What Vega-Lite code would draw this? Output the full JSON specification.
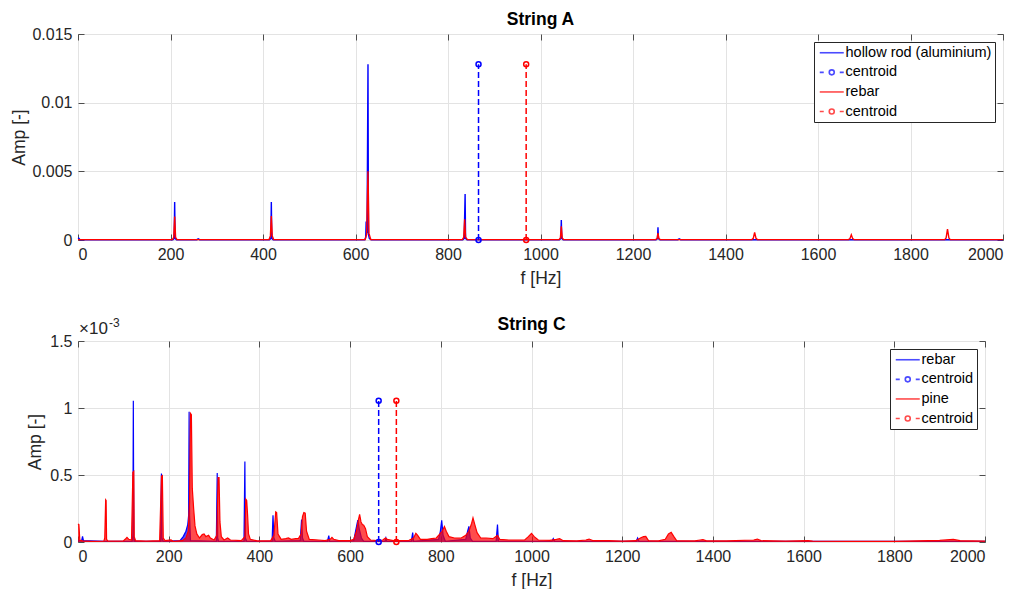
{
  "$schema": "https://vega.github.io/schema/vega-lite/v6.json",
  "background": "white",
  "padding": {"left": 10, "top": 10, "right": 0, "bottom": 0},
  "config": {
    "font": "Liberation Sans",
    "view": {"stroke": "#4d4d4d", "strokeWidth": 1},
    "axis": {
      "labelFont": "Liberation Sans", "labelFontSize": 16, "labelColor": "#262626",
      "titleFont": "Liberation Sans", "titleFontSize": 17.5, "titleFontWeight": "normal", "titleColor": "#262626",
      "gridColor": "#e3e3e3", "gridOpacity": 1, "gridWidth": 1,
      "domain": false, "tickColor": "#4d4d4d", "tickSize": -6, "tickWidth": 1
    },
    "title": {"font": "Liberation Sans", "fontSize": 17.5, "fontWeight": "bold", "color": "#000000", "anchor": "middle", "frame": "group"},
    "legend": {"labelFont": "Liberation Sans"}
  },
  "datasets": {
    "A_blue": [
      {"f":0,"amp":0.00015},{"f":2,"amp":0.00012},{"f":4,"amp":0.00002},{"f":205,"amp":0.00002},{"f":208,"amp":0.00012},{"f":209,"amp":0.00276},{"f":210,"amp":0.00012},{"f":213,"amp":0.00002},{"f":257,"amp":0.00002},{"f":260,"amp":0.00008},{"f":263,"amp":0.00002},{"f":414,"amp":0.00002},{"f":417,"amp":0.00012},{"f":418,"amp":0.00276},{"f":419,"amp":0.00012},{"f":422,"amp":0.00002},{"f":620,"amp":0.00002},{"f":622,"amp":0.0002},{"f":623,"amp":0.0013},{"f":624,"amp":0.0013},{"f":625,"amp":0.0005},{"f":627,"amp":0.0128},{"f":628,"amp":0.0004},{"f":630,"amp":0.0001},{"f":634,"amp":0.00002},{"f":832,"amp":0.00002},{"f":835,"amp":0.00012},{"f":837,"amp":0.00335},{"f":838,"amp":0.00012},{"f":841,"amp":0.00002},{"f":1041,"amp":0.00002},{"f":1044,"amp":0.00012},{"f":1045,"amp":0.00145},{"f":1046,"amp":0.00012},{"f":1049,"amp":0.00002},{"f":1250,"amp":0.00002},{"f":1253,"amp":0.0001},{"f":1254,"amp":0.00092},{"f":1255,"amp":0.0001},{"f":1258,"amp":0.00002},{"f":1297,"amp":0.00002},{"f":1300,"amp":0.00008},{"f":1303,"amp":0.00002},{"f":2000,"amp":0.00002}
    ],
    "A_red": [
      {"f":0,"amp":0.00003},{"f":204,"amp":0.00003},{"f":207,"amp":0.0002},{"f":209,"amp":0.0017},{"f":211,"amp":0.0002},{"f":214,"amp":0.00003},{"f":413,"amp":0.00003},{"f":416,"amp":0.0003},{"f":418,"amp":0.00175},{"f":420,"amp":0.0003},{"f":423,"amp":0.00003},{"f":621,"amp":0.00003},{"f":624,"amp":0.0004},{"f":627,"amp":0.005},{"f":629,"amp":0.0005},{"f":633,"amp":0.00003},{"f":831,"amp":0.00003},{"f":834,"amp":0.0002},{"f":836,"amp":0.0015},{"f":838,"amp":0.0002},{"f":842,"amp":0.00003},{"f":1040,"amp":0.00003},{"f":1043,"amp":0.00015},{"f":1045,"amp":0.001},{"f":1047,"amp":0.00015},{"f":1050,"amp":0.00003},{"f":1249,"amp":0.00003},{"f":1252,"amp":0.0001},{"f":1254,"amp":0.0005},{"f":1256,"amp":0.0001},{"f":1259,"amp":0.00003},{"f":1457,"amp":0.00003},{"f":1460,"amp":0.00012},{"f":1463,"amp":0.00056},{"f":1466,"amp":0.00012},{"f":1469,"amp":0.00003},{"f":1666,"amp":0.00003},{"f":1669,"amp":0.0001},{"f":1672,"amp":0.00038},{"f":1675,"amp":0.0001},{"f":1678,"amp":0.00003},{"f":1874,"amp":0.00003},{"f":1877,"amp":0.00015},{"f":1880,"amp":0.0008},{"f":1883,"amp":0.00015},{"f":1886,"amp":0.00003},{"f":2000,"amp":0.00003}
    ],
    "A_c1": [{"series":"centroid (hollow rod)","f":866,"amp":0},{"series":"centroid (hollow rod)","f":866,"amp":0.0128}],
    "A_c2": [{"series":"centroid (rebar)","f":969,"amp":0},{"series":"centroid (rebar)","f":969,"amp":0.0128}],
    "C_blue": [
      {"f":0,"amp":0.00001},{"f":8,"amp":0.00001},{"f":10,"amp":0.000042},{"f":12,"amp":0.00001},{"f":60,"amp":0.000005},{"f":119,"amp":0.000005},{"f":121,"amp":0.00005},{"f":122,"amp":0.001054},{"f":123,"amp":0.00004},{"f":125,"amp":0.000005},{"f":182,"amp":0.000005},{"f":184,"amp":0.000512},{"f":185,"amp":0.00003},{"f":188,"amp":0.000005},{"f":225,"amp":0.00001},{"f":232,"amp":0.00004},{"f":238,"amp":0.00008},{"f":242,"amp":0.00013},{"f":244,"amp":0.0002},{"f":245,"amp":0.000972},{"f":246,"amp":0.0002},{"f":248,"amp":0.00001},{"f":305,"amp":0.000005},{"f":307,"amp":0.000515},{"f":308,"amp":0.00003},{"f":310,"amp":0.000005},{"f":366,"amp":0.000005},{"f":368,"amp":0.0006},{"f":369,"amp":0.00003},{"f":372,"amp":0.000005},{"f":428,"amp":0.000005},{"f":430,"amp":0.0002},{"f":432,"amp":0.00003},{"f":435,"amp":0.000005},{"f":490,"amp":0.00001},{"f":493,"amp":0.000167},{"f":495,"amp":0.00003},{"f":498,"amp":0.000005},{"f":550,"amp":0.000005},{"f":553,"amp":0.000047},{"f":555,"amp":0.000005},{"f":608,"amp":0.00001},{"f":612,"amp":0.00008},{"f":617,"amp":0.000164},{"f":620,"amp":0.0001},{"f":625,"amp":0.00003},{"f":630,"amp":0.000005},{"f":677,"amp":0.000005},{"f":679,"amp":0.00003},{"f":681,"amp":0.000005},{"f":735,"amp":0.000005},{"f":738,"amp":0.00007},{"f":740,"amp":0.000005},{"f":795,"amp":0.00002},{"f":799,"amp":0.00008},{"f":802,"amp":0.000162},{"f":805,"amp":0.00005},{"f":810,"amp":0.000005},{"f":855,"amp":0.00002},{"f":859,"amp":0.00008},{"f":862,"amp":0.000117},{"f":865,"amp":0.00003},{"f":870,"amp":0.000005},{"f":922,"amp":0.000005},{"f":925,"amp":0.00013},{"f":927,"amp":0.000005},{"f":1045,"amp":0.000005},{"f":1048,"amp":0.000025},{"f":1051,"amp":0.000005},{"f":1231,"amp":0.000005},{"f":1234,"amp":0.00003},{"f":1237,"amp":0.000005},{"f":2000,"amp":0.000005}
    ],
    "C_red": [
      {"f":0,"amp":0.000135},{"f":2,"amp":0.00013},{"f":4,"amp":0.000015},{"f":10,"amp":0.000008},{"f":30,"amp":0.000005},{"f":57,"amp":0.000006},{"f":59,"amp":0.00003},{"f":61,"amp":0.000315},{"f":62,"amp":0.00031},{"f":63,"amp":0.00002},{"f":66,"amp":0.000006},{"f":100,"amp":0.000008},{"f":104,"amp":0.00002},{"f":108,"amp":0.000035},{"f":112,"amp":0.00002},{"f":118,"amp":0.000015},{"f":121,"amp":0.00052},{"f":123,"amp":0.000527},{"f":124,"amp":0.00004},{"f":127,"amp":0.00001},{"f":150,"amp":0.000006},{"f":180,"amp":0.00001},{"f":184,"amp":0.00049},{"f":186,"amp":0.000495},{"f":188,"amp":0.00003},{"f":192,"amp":0.00001},{"f":205,"amp":0.000015},{"f":210,"amp":0.000005},{"f":230,"amp":0.00001},{"f":238,"amp":0.00003},{"f":243,"amp":0.00008},{"f":246,"amp":0.0003},{"f":248,"amp":0.00096},{"f":250,"amp":0.00095},{"f":252,"amp":0.0004},{"f":255,"amp":0.00025},{"f":258,"amp":0.00012},{"f":262,"amp":0.00006},{"f":268,"amp":0.00003},{"f":274,"amp":0.000055},{"f":278,"amp":0.00006},{"f":282,"amp":0.00004},{"f":288,"amp":0.00005},{"f":292,"amp":0.00003},{"f":300,"amp":0.000015},{"f":306,"amp":0.00005},{"f":309,"amp":0.00048},{"f":311,"amp":0.00048},{"f":313,"amp":0.00015},{"f":316,"amp":0.00004},{"f":322,"amp":0.000015},{"f":330,"amp":0.00003},{"f":336,"amp":0.000015},{"f":360,"amp":0.00001},{"f":368,"amp":0.00004},{"f":370,"amp":0.00032},{"f":372,"amp":0.00031},{"f":374,"amp":0.0002},{"f":376,"amp":0.00006},{"f":380,"amp":0.00002},{"f":395,"amp":0.000008},{"f":425,"amp":0.00001},{"f":432,"amp":0.00005},{"f":436,"amp":0.000225},{"f":438,"amp":0.00022},{"f":441,"amp":0.00006},{"f":448,"amp":0.00002},{"f":458,"amp":0.000025},{"f":464,"amp":0.00003},{"f":470,"amp":0.00002},{"f":480,"amp":0.000025},{"f":486,"amp":0.000025},{"f":492,"amp":0.00006},{"f":495,"amp":0.00019},{"f":498,"amp":0.00022},{"f":501,"amp":0.000215},{"f":504,"amp":0.00008},{"f":510,"amp":0.00002},{"f":530,"amp":0.000015},{"f":545,"amp":0.00001},{"f":556,"amp":0.00002},{"f":560,"amp":0.000035},{"f":564,"amp":0.00002},{"f":575,"amp":0.00001},{"f":600,"amp":0.00001},{"f":608,"amp":0.00002},{"f":614,"amp":0.00008},{"f":618,"amp":0.00016},{"f":621,"amp":0.000207},{"f":624,"amp":0.00015},{"f":627,"amp":0.00013},{"f":630,"amp":0.000125},{"f":634,"amp":0.0001},{"f":638,"amp":0.00004},{"f":645,"amp":0.000015},{"f":660,"amp":0.00001},{"f":672,"amp":0.000015},{"f":678,"amp":0.00003},{"f":682,"amp":0.00002},{"f":695,"amp":0.00001},{"f":710,"amp":0.00001},{"f":730,"amp":0.000012},{"f":740,"amp":0.00003},{"f":745,"amp":0.000065},{"f":749,"amp":0.00005},{"f":755,"amp":0.00002},{"f":770,"amp":0.00002},{"f":780,"amp":0.000025},{"f":790,"amp":0.00003},{"f":798,"amp":0.00006},{"f":803,"amp":0.00008},{"f":808,"amp":0.000115},{"f":812,"amp":0.00008},{"f":818,"amp":0.00004},{"f":830,"amp":0.00003},{"f":845,"amp":0.00003},{"f":855,"amp":0.00005},{"f":862,"amp":0.00008},{"f":868,"amp":0.00014},{"f":871,"amp":0.00018},{"f":875,"amp":0.00013},{"f":880,"amp":0.00007},{"f":888,"amp":0.00003},{"f":900,"amp":0.00003},{"f":915,"amp":0.000025},{"f":925,"amp":0.00005},{"f":930,"amp":0.00002},{"f":950,"amp":0.000015},{"f":970,"amp":0.000015},{"f":985,"amp":0.000015},{"f":993,"amp":0.00004},{"f":1000,"amp":0.000065},{"f":1006,"amp":0.00004},{"f":1015,"amp":0.000015},{"f":1040,"amp":0.000012},{"f":1055,"amp":0.00002},{"f":1062,"amp":0.000025},{"f":1070,"amp":0.00001},{"f":1100,"amp":0.000008},{"f":1120,"amp":0.000015},{"f":1127,"amp":0.000022},{"f":1135,"amp":0.00001},{"f":1170,"amp":0.00001},{"f":1200,"amp":0.000006},{"f":1230,"amp":0.00001},{"f":1240,"amp":0.00003},{"f":1247,"amp":0.00004},{"f":1252,"amp":0.000042},{"f":1258,"amp":0.00001},{"f":1280,"amp":0.000008},{"f":1295,"amp":0.00002},{"f":1302,"amp":0.00006},{"f":1308,"amp":0.000072},{"f":1314,"amp":0.00004},{"f":1320,"amp":0.00001},{"f":1360,"amp":0.000008},{"f":1372,"amp":0.000015},{"f":1378,"amp":0.000018},{"f":1386,"amp":0.000008},{"f":1430,"amp":0.000008},{"f":1490,"amp":0.000015},{"f":1498,"amp":0.000022},{"f":1506,"amp":0.00001},{"f":1560,"amp":0.000006},{"f":1610,"amp":0.00001},{"f":1620,"amp":0.000006},{"f":1700,"amp":0.000005},{"f":1800,"amp":0.000005},{"f":1900,"amp":0.000012},{"f":1930,"amp":0.00002},{"f":1945,"amp":0.00001},{"f":2000,"amp":0.000006}
    ],
    "C_c1": [{"series":"centroid (rebar)","f":663,"amp":0},{"series":"centroid (rebar)","f":663,"amp":0.001054}],
    "C_c2": [{"series":"centroid (pine)","f":702,"amp":0},{"series":"centroid (pine)","f":702,"amp":0.001054}]
  },
  "resolve": {"scale": {"color": "independent", "shape": "independent", "x": "independent", "y": "independent"}, "legend": {"color": "independent", "shape": "independent"}},
  "spacing": 28,
  "vconcat": [
    {
      "width": 925, "height": 206,
      "title": {"text": "String A", "offset": -2},
      "resolve": {"axis": {"x": "independent", "y": "independent"}},
      "layer": [
        {
          "data": {"name": "A_blue"},
          "mark": {"type": "line", "strokeWidth": 1.4, "color": "#0000ff"},
          "encoding": {
            "x": {"field": "f", "type": "quantitative", "scale": {"domain": [0, 2000], "nice": false, "zero": false},
                  "axis": {"orient": "bottom", "values": [0,200,400,600,800,1000,1200,1400,1600,1800,2000], "format": "d", "title": "f [Hz]", "labelPadding": 12, "titlePadding": 7}},
            "y": {"field": "amp", "type": "quantitative", "scale": {"domain": [0, 0.015], "nice": false, "zero": false},
                  "axis": {"orient": "left", "values": [0, 0.005, 0.01, 0.015], "format": ".3~f", "title": "Amp [-]", "labelPadding": 12, "titlePadding": 3}}
          }
        },
        {
          "data": {"name": "A_red"},
          "mark": {"type": "line", "strokeWidth": 1.4, "color": "#ff0000"},
          "encoding": {
            "x": {"field": "f", "type": "quantitative", "axis": null},
            "y": {"field": "amp", "type": "quantitative", "axis": null}
          }
        },
        {
          "data": {"name": "A_c1"},
          "mark": {"type": "line", "strokeWidth": 1.5, "strokeDash": [6, 3], "color": "#0000ff"},
          "encoding": {
            "x": {"field": "f", "type": "quantitative",
                  "axis": {"orient": "top", "values": [0,200,400,600,800,1000,1200,1400,1600,1800,2000], "labels": false, "grid": false, "title": null}},
            "y": {"field": "amp", "type": "quantitative",
                  "axis": {"orient": "right", "values": [0, 0.005, 0.01, 0.015], "labels": false, "grid": false, "title": null}},
            "order": {"field": "amp", "type": "quantitative"}
          }
        },
        {
          "data": {"name": "A_c2"},
          "mark": {"type": "line", "strokeWidth": 1.5, "strokeDash": [6, 3], "color": "#ff0000"},
          "encoding": {
            "x": {"field": "f", "type": "quantitative", "axis": null},
            "y": {"field": "amp", "type": "quantitative", "axis": null},
            "order": {"field": "amp", "type": "quantitative"}
          }
        },
        {
          "data": {"name": "A_c1"},
          "mark": {"type": "point", "filled": false, "size": 25, "strokeWidth": 1.5, "opacity": 1, "color": "#0000ff"},
          "encoding": {
            "x": {"field": "f", "type": "quantitative", "axis": null},
            "y": {"field": "amp", "type": "quantitative", "axis": null}
          }
        },
        {
          "data": {"name": "A_c2"},
          "mark": {"type": "point", "filled": false, "size": 25, "strokeWidth": 1.5, "opacity": 1, "color": "#ff0000"},
          "encoding": {
            "x": {"field": "f", "type": "quantitative", "axis": null},
            "y": {"field": "amp", "type": "quantitative", "axis": null}
          }
        },
        {
          "data": {"values": []},
          "mark": {"type": "point", "filled": false},
          "encoding": {
            "color": {"field": "series", "type": "nominal",
                      "scale": {"domain": ["hollow rod (aluminium)", "centroid (hollow rod)", "rebar", "centroid (rebar)"], "range": ["#0000ff", "#0000ff", "#ff0000", "#ff0000"]},
                      "legend": {"orient": "top-right", "offset": 8, "title": null, "padding": 3.5, "strokeColor": "#262626", "fillColor": "white", "cornerRadius": 0,
                                 "labelFontSize": 14.5, "labelColor": "#000000", "labelOffset": 13.5, "symbolSize": 100, "symbolStrokeWidth": 1.6, "rowPadding": 4.6,
                                 "labelExpr": "substring(datum.label, 0, 8) == 'centroid' ? 'centroid' : datum.label"}},
            "shape": {"field": "series", "type": "nominal",
                      "scale": {"domain": ["hollow rod (aluminium)", "centroid (hollow rod)", "rebar", "centroid (rebar)"],
                                "range": ["M-1,0H3.8", "M-1,0H-0.2M0.9,0A0.5,0.5 0 1,1 1.9,0A0.5,0.5 0 1,1 0.9,0M3,0H3.8", "M-1,0H3.8", "M-1,0H-0.2M0.9,0A0.5,0.5 0 1,1 1.9,0A0.5,0.5 0 1,1 0.9,0M3,0H3.8"]},
                      "legend": {"orient": "top-right", "offset": 8, "title": null, "padding": 3.5, "strokeColor": "#262626", "fillColor": "white", "cornerRadius": 0,
                                 "labelFontSize": 14.5, "labelColor": "#000000", "labelOffset": 13.5, "symbolSize": 100, "symbolStrokeWidth": 1.6, "rowPadding": 4.6,
                                 "labelExpr": "substring(datum.label, 0, 8) == 'centroid' ? 'centroid' : datum.label"}}
          }
        }
      ]
    },
    {
      "width": 907, "height": 201,
      "title": {"text": "String C", "offset": -16},
      "resolve": {"axis": {"x": "independent", "y": "independent"}},
      "layer": [
        {
          "data": {"name": "C_blue"},
          "mark": {"type": "area", "color": "#0000ff", "line": {"strokeWidth": 1.2, "color": "#0000ff"}},
          "encoding": {
            "x": {"field": "f", "type": "quantitative", "scale": {"domain": [0, 2000], "nice": false, "zero": false},
                  "axis": {"orient": "bottom", "values": [0,200,400,600,800,1000,1200,1400,1600,1800,2000], "format": "d", "title": "f [Hz]", "labelPadding": 12, "titlePadding": 7}},
            "y": {"field": "amp", "type": "quantitative", "scale": {"domain": [0, 0.0015], "nice": false, "zero": false},
                  "axis": {"orient": "left", "values": [0, 0.0005, 0.001, 0.0015], "labelExpr": "format(datum.value*1000, '~g')", "title": "Amp [-]", "labelPadding": 12, "titlePadding": 5}}
          }
        },
        {
          "data": {"name": "C_red"},
          "mark": {"type": "area", "color": "#ff0000", "line": {"strokeWidth": 1.2, "color": "#ff0000"}},
          "encoding": {
            "x": {"field": "f", "type": "quantitative", "axis": null},
            "y": {"field": "amp", "type": "quantitative", "axis": null}
          }
        },
        {
          "data": {"name": "C_c1"},
          "mark": {"type": "line", "strokeWidth": 1.5, "strokeDash": [6, 3], "color": "#0000ff"},
          "encoding": {
            "x": {"field": "f", "type": "quantitative",
                  "axis": {"orient": "top", "values": [0,200,400,600,800,1000,1200,1400,1600,1800,2000], "labels": false, "grid": false, "title": null}},
            "y": {"field": "amp", "type": "quantitative",
                  "axis": {"orient": "right", "values": [0, 0.0005, 0.001, 0.0015], "labels": false, "grid": false, "title": null}},
            "order": {"field": "amp", "type": "quantitative"}
          }
        },
        {
          "data": {"name": "C_c2"},
          "mark": {"type": "line", "strokeWidth": 1.5, "strokeDash": [6, 3], "color": "#ff0000"},
          "encoding": {
            "x": {"field": "f", "type": "quantitative", "axis": null},
            "y": {"field": "amp", "type": "quantitative", "axis": null},
            "order": {"field": "amp", "type": "quantitative"}
          }
        },
        {
          "data": {"name": "C_c1"},
          "mark": {"type": "point", "filled": false, "size": 25, "strokeWidth": 1.5, "opacity": 1, "color": "#0000ff"},
          "encoding": {
            "x": {"field": "f", "type": "quantitative", "axis": null},
            "y": {"field": "amp", "type": "quantitative", "axis": null}
          }
        },
        {
          "data": {"name": "C_c2"},
          "mark": {"type": "point", "filled": false, "size": 25, "strokeWidth": 1.5, "opacity": 1, "color": "#ff0000"},
          "encoding": {
            "x": {"field": "f", "type": "quantitative", "axis": null},
            "y": {"field": "amp", "type": "quantitative", "axis": null}
          }
        },
        {
          "data": {"values": [{"label": "×10"}]},
          "mark": {"type": "text", "align": "left", "baseline": "alphabetic", "dx": 1, "dy": -7, "fontSize": 17, "color": "#262626", "font": "Liberation Sans"},
          "encoding": {
            "x": {"datum": 0, "type": "quantitative", "axis": null},
            "y": {"datum": 0.0015, "type": "quantitative", "axis": null},
            "text": {"field": "label"}
          }
        },
        {
          "data": {"values": [{"label": "-3"}]},
          "mark": {"type": "text", "align": "left", "baseline": "alphabetic", "dx": 31, "dy": -14, "fontSize": 12, "color": "#262626", "font": "Liberation Sans"},
          "encoding": {
            "x": {"datum": 0, "type": "quantitative", "axis": null},
            "y": {"datum": 0.0015, "type": "quantitative", "axis": null},
            "text": {"field": "label"}
          }
        },
        {
          "data": {"values": []},
          "mark": {"type": "point", "filled": false},
          "encoding": {
            "color": {"field": "series", "type": "nominal",
                      "scale": {"domain": ["rebar", "centroid (rebar)", "pine", "centroid (pine)"], "range": ["#0000ff", "#0000ff", "#ff0000", "#ff0000"]},
                      "legend": {"orient": "top-right", "offset": 8, "title": null, "padding": 3.5, "strokeColor": "#262626", "fillColor": "white", "cornerRadius": 0,
                                 "labelFontSize": 14.5, "labelColor": "#000000", "labelOffset": 13.5, "symbolSize": 100, "symbolStrokeWidth": 1.6, "rowPadding": 4.6,
                                 "labelExpr": "substring(datum.label, 0, 8) == 'centroid' ? 'centroid' : datum.label"}},
            "shape": {"field": "series", "type": "nominal",
                      "scale": {"domain": ["rebar", "centroid (rebar)", "pine", "centroid (pine)"],
                                "range": ["M-1,0H3.8", "M-1,0H-0.2M0.9,0A0.5,0.5 0 1,1 1.9,0A0.5,0.5 0 1,1 0.9,0M3,0H3.8", "M-1,0H3.8", "M-1,0H-0.2M0.9,0A0.5,0.5 0 1,1 1.9,0A0.5,0.5 0 1,1 0.9,0M3,0H3.8"]},
                      "legend": {"orient": "top-right", "offset": 8, "title": null, "padding": 3.5, "strokeColor": "#262626", "fillColor": "white", "cornerRadius": 0,
                                 "labelFontSize": 14.5, "labelColor": "#000000", "labelOffset": 13.5, "symbolSize": 100, "symbolStrokeWidth": 1.6, "rowPadding": 4.6,
                                 "labelExpr": "substring(datum.label, 0, 8) == 'centroid' ? 'centroid' : datum.label"}}
          }
        }
      ]
    }
  ]
}
